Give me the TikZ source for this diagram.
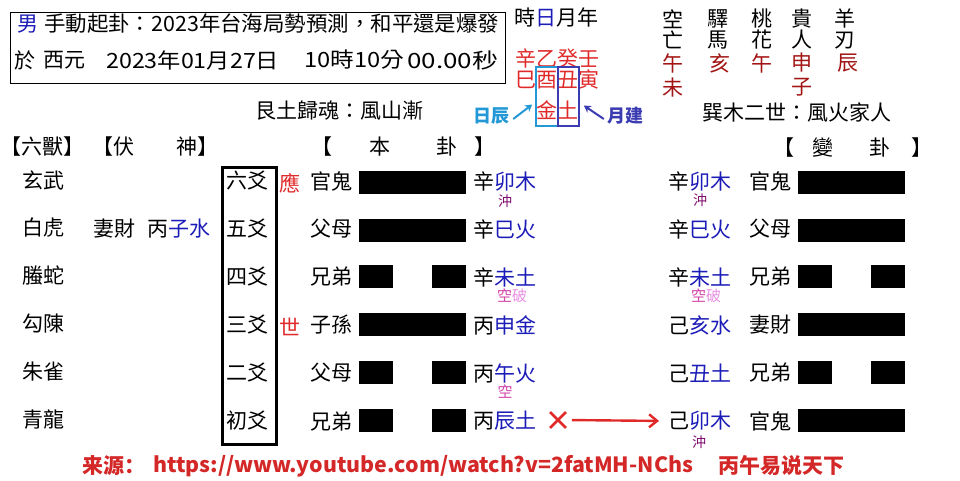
\documentclass[tikz,border=0pt]{standalone}
\usepackage{graphicx}
\usepackage{fontspec}
\setmainfont{Noto Sans CJK TC}
\newfontfamily\srcfont{Noto Sans CJK SC}
\usetikzlibrary{arrows.meta,shapes.misc}

\definecolor{zhiblue}{HTML}{1C1CB8}
\definecolor{ganred}{HTML}{E02A2A}
\definecolor{kongred}{HTML}{A31515}
\definecolor{chongpurple}{HTML}{7E0A6E}
\definecolor{kongpink}{HTML}{D244A8}
\definecolor{popink}{HTML}{E98FE2}
\definecolor{richen}{HTML}{2398D6}
\definecolor{yuejian}{HTML}{3B3BB2}
\definecolor{srcred}{HTML}{D42828}

\newcommand\setfs[1]{\fontsize{#1}{#1}\selectfont}

\begin{document}
\begin{tikzpicture}[x=1pt, y=-1pt,
  lbl/.style={inner sep=0pt, font=\setfs{21}},
  naj/.style={lbl, anchor=west},
  note/.style={inner sep=0pt, font=\setfs{14}},
  yangbar/.style={fill=black, inner sep=0pt, minimum width=107, minimum height=23},
  yinbar/.style={fill=black, inner sep=0pt, minimum width=34, minimum height=23},
  linkarr/.style={-{Stealth[length=7pt,width=8pt]}, line width=2pt},
  srcnode/.style={inner sep=0pt, anchor=west, text=srcred, font=\srcfont\bfseries\setfs{21}}
]
\useasboundingbox (0,0) rectangle (960,480);

% title
\node[draw, line width=0.8pt, minimum width=495, minimum height=71, inner sep=0pt, anchor=north west] (titlebox) at (10,12) {};
\node[lbl, anchor=west, text=zhiblue] (male) at (17,24) {男};
\node[lbl, anchor=west] (title) at (44,24) {\resizebox{455pt}{\height}{手動起卦：2023年台海局勢預測，和平還是爆發}};
\node[lbl, anchor=west] (dateA) at (14,60) {於};
\node[lbl, anchor=west] (dateB) at (43,60) {\resizebox{42pt}{\height}{西元}};
\node[lbl, anchor=west] (dateC) at (106,60) {\resizebox{173pt}{\height}{2023年01月27日}};
\node[lbl, anchor=west] (dateD) at (304,60) {\resizebox{100pt}{\height}{10時10分}};
\node[lbl, anchor=west] (dateE) at (407,60) {\resizebox{91pt}{\height}{00.00秒}};

% sizhu
\node[lbl] (shiri) at (556,17) {時\textcolor{zhiblue}{日}月年};
\node[lbl, text=ganred] (tiangan) at (557,58) {辛乙癸壬};
\node[lbl, text=ganred] (dizhi) at (557,79) {巳酉丑寅};
\node[lbl, text=ganred] (jin) at (547,110) {金};
\node[lbl, text=ganred] (tu) at (568,110) {土};
\node[draw=richen, line width=1.6pt, minimum width=22, minimum height=59, inner sep=0pt] (riBox) at (547,96.5) {};
\node[draw=yuejian, line width=1.6pt, minimum width=21, minimum height=59, inner sep=0pt] (yueBox) at (568.5,96.5) {};
\node[inner sep=0pt, font=\bfseries\setfs{18}, text=richen] (rclab) at (491,116) {日辰};
\node[inner sep=0pt, font=\bfseries\setfs{18}, text=yuejian] (yjlab) at (625,116) {月建};
\draw[linkarr, richen] ([xshift=4pt,yshift=-3pt]rclab.east) -- ([xshift=-3pt,yshift=-8pt]riBox.west);
\draw[linkarr, yuejian] ([xshift=-3pt,yshift=-3pt]yjlab.west) -- ([xshift=4pt,yshift=-9pt]yueBox.east);

% shensha
\node[lbl, align=center] (kongwang) at (673,29) {空\\亡};
\node[lbl, align=center] (yima) at (718,29) {驛\\馬};
\node[lbl, align=center] (taohua) at (762,29) {桃\\花};
\node[lbl, align=center] (guiren) at (802,29) {貴\\人};
\node[lbl, align=center] (yangren) at (845,29) {羊\\刃};
\node[lbl, align=center, text=kongred] (kongwangV) at (673,75) {午\\[3pt]未};
\node[lbl, text=kongred] (yimaV) at (720,63) {亥};
\node[lbl, text=kongred] (taohuaV) at (762,63) {午};
\node[lbl, align=center, text=kongred] (guirenV) at (802,75) {申\\[3pt]子};
\node[lbl, text=kongred] (yangrenV) at (848,63) {辰};

% gua names
\node[lbl] (benName) at (339,111) {艮土歸魂：風山漸};
\node[lbl] (bianName) at (797,112) {巽木二世：風火家人};

% headers
\node[lbl] (shouHd) at (43,147) {【六獸】};
\node[lbl] (fushenHd) at (155,147) {【伏\hspace{2em}神】};
\node[lbl] (benL) at (322,147) {【};
\node[lbl] (benHd) at (380,147) {本};
\node[lbl] (benGua) at (447,147) {卦};
\node[lbl] (benR) at (485,147) {】};
\node[lbl] (bianL) at (784,148) {【};
\node[lbl] (bianHd) at (823,148) {變};
\node[lbl] (bianGua) at (880,148) {卦};
\node[lbl] (bianR) at (922,148) {】};

% liushou
\node[lbl] (s1) at (43,180) {玄武};
\node[lbl] (s2) at (43,228) {白虎};
\node[lbl] (s3) at (43,276) {螣蛇};
\node[lbl] (s4) at (43,324) {勾陳};
\node[lbl] (s5) at (43,372) {朱雀};
\node[lbl] (s6) at (43,420) {青龍};
\node[lbl, anchor=west] (fushen) at (93,229) {妻財\hspace{12pt}丙\textcolor{zhiblue}{子水}};

% yao
\node[draw, line width=2.5pt, minimum width=54, minimum height=277, inner sep=0pt, anchor=north west] (yaobox) at (221,166) {};
\node[lbl] (y6) at (247,181) {六爻};
\node[lbl] (y5) at (247,229) {五爻};
\node[lbl] (y4) at (247,277) {四爻};
\node[lbl] (y3) at (247,325) {三爻};
\node[lbl] (y2) at (247,373) {二爻};
\node[lbl] (y1) at (247,421) {初爻};
\node[lbl, text=ganred] (ying) at (290,183) {應};
\node[lbl, text=ganred] (shi) at (290,327) {世};

% ben gua
\node[lbl] (q1) at (331,181) {官鬼};
\node[lbl] (q2) at (331,229) {父母};
\node[lbl] (q3) at (331,277) {兄弟};
\node[lbl] (q4) at (331,325) {子孫};
\node[lbl] (q5) at (331,373) {父母};
\node[lbl] (q6) at (331,421) {兄弟};
\node[yangbar] (g1) at (412.5,182) {};
\node[yangbar] (g2) at (412.5,230) {};
\node[yinbar] (g3a) at (376,276) {};
\node[yinbar] (g3b) at (449,276) {};
\node[yangbar] (g4) at (412.5,324) {};
\node[yinbar] (g5a) at (376,372) {};
\node[yinbar] (g5b) at (449,372) {};
\node[yinbar] (g6a) at (376,420) {};
\node[yinbar] (g6b) at (449,420) {};
\node[naj] (n1) at (473,181) {辛\textcolor{zhiblue}{卯木}};
\node[naj] (n2) at (473,229) {辛\textcolor{zhiblue}{巳火}};
\node[naj] (n3) at (473,277) {辛\textcolor{zhiblue}{未土}};
\node[naj] (n4) at (473,325) {丙\textcolor{zhiblue}{申金}};
\node[naj] (n5) at (473,373) {丙\textcolor{zhiblue}{午火}};
\node[naj] (n6) at (473,421) {丙\textcolor{zhiblue}{辰土}};
\node[note, text=chongpurple] (c1) at (505,201) {沖};
\node[note, font=\setfs{15}] (k3) at (512,296) {\textcolor{kongpink}{空}\textcolor{popink}{破}};
\node[note, font=\setfs{15}, text=kongpink] (k5) at (505,392) {空};

% bian gua
\node[naj] (bn1) at (668,181) {辛\textcolor{zhiblue}{卯木}};
\node[naj] (bn2) at (668,229) {辛\textcolor{zhiblue}{巳火}};
\node[naj] (bn3) at (668,277) {辛\textcolor{zhiblue}{未土}};
\node[naj] (bn4) at (668,325) {己\textcolor{zhiblue}{亥水}};
\node[naj] (bn5) at (668,373) {己\textcolor{zhiblue}{丑土}};
\node[naj] (bn6) at (668,421) {己\textcolor{zhiblue}{卯木}};
\node[note, text=chongpurple] (bc1) at (700,200) {沖};
\node[note, font=\setfs{15}] (bk3) at (706,296) {\textcolor{kongpink}{空}\textcolor{popink}{破}};
\node[note, text=chongpurple] (bc6) at (699,442) {沖};
\node[lbl] (bq1) at (770,181) {官鬼};
\node[lbl] (bq2) at (770,229) {父母};
\node[lbl] (bq3) at (770,277) {兄弟};
\node[lbl] (bq4) at (770,325) {妻財};
\node[lbl] (bq5) at (770,373) {兄弟};
\node[lbl] (bq6) at (770,421) {官鬼};
\node[yangbar] (bg1) at (851.5,182) {};
\node[yangbar] (bg2) at (851.5,230) {};
\node[yinbar] (bg3a) at (815,276) {};
\node[yinbar] (bg3b) at (888,276) {};
\node[yangbar] (bg4) at (851.5,324) {};
\node[yinbar] (bg5a) at (815,372) {};
\node[yinbar] (bg5b) at (888,372) {};
\node[yangbar] (bg6) at (851.5,420) {};

% moving line
\node[cross out, draw=ganred, line width=2.8pt, minimum size=13pt, inner sep=0pt] (dongmark) at (558,420) {};
\draw[-{Straight Barb[length=8pt,width=13pt]}, ganred, line width=2.4pt, shorten <=6pt, shorten >=9pt] (dongmark.east) -- (bn6.west);

% source
\node[srcnode] (srcLbl) at (82,466) {来源：};
\node[srcnode] (srcUrl) at (153,466) {\resizebox{540pt}{\height}{https://www.youtube.com/watch?v=2fatMH-NChs}};
\node[srcnode] (srcName) at (718,466) {丙午易说天下};

\end{tikzpicture}
\end{document}
